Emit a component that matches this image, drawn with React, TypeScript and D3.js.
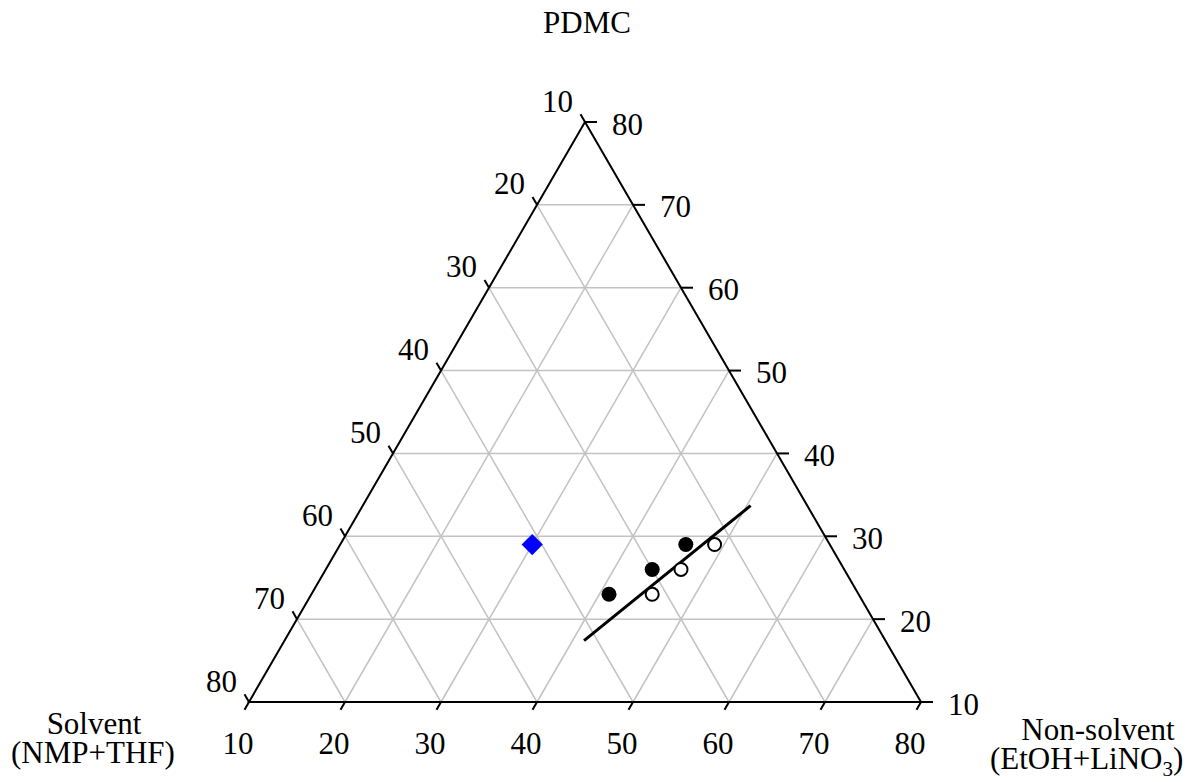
import React from "react";
import * as d3 from "d3";

// Tick values shared by all three axes (each component runs 10–80 %)
const ticks = [10, 20, 30, 40, 50, 60, 70, 80];
const gridValues = [20, 30, 40, 50, 60, 70];

// Compositions: PDMC / Non-solvent / Solvent (wt %)
const filledPdmc = [23, 26, 29];
const filledNonSolvent = [41, 44, 46];
const filledSolvent = [36, 30, 25];

const openPdmc = [23, 26, 29];
const openNonSolvent = [45.5, 47, 49];
const openSolvent = [31.5, 27, 22];

const castPdmc = [29];
const castNonSolvent = [30];
const castSolvent = [41];

// Binodal trend line end points
const linePdmc = [17.4, 33.7];
const lineNonSolvent = [41.2, 50.4];
const lineSolvent = [41.4, 15.9];

const W = 1200;
const H = 782;
const FONT = "'Liberation Serif', 'Times New Roman', serif";
const FS = 31;

// Triangle geometry
const top = { x: 585, y: 122 };
const left = { x: 249, y: 702 };
const right = { x: 921, y: 702 };

// Fraction of each component inside the 10–80 range
const frac = d3.scaleLinear().domain([10, 80]).range([0, 1]);

function project(p: number, n: number, s: number): [number, number] {
  const a = frac(p);
  const b = frac(n);
  const c = frac(s);
  const sum = a + b + c;
  return [
    (a * top.x + b * right.x + c * left.x) / sum,
    (a * top.y + b * right.y + c * left.y) / sum,
  ];
}

export default function App() {
  const line = d3.line<[number, number]>();
  const grid: string[] = [];
  gridValues.forEach((v) => {
    const rest = 100 - v - 10;
    // constant PDMC (horizontal)
    grid.push(line([project(v, 10, rest), project(v, rest, 10)])!);
    // constant Non-solvent
    grid.push(line([project(10, v, rest), project(rest, v, 10)])!);
    // constant Solvent
    grid.push(line([project(10, rest, v), project(rest, 10, v)])!);
  });

  const edge = line([
    [top.x, top.y],
    [left.x, left.y],
    [right.x, right.y],
    [top.x, top.y],
  ])!;

  const c60 = 0.5;
  const s60 = Math.sqrt(3) / 2;
  const tickLen = 9;
  const rightTickLen = 12;

  const filled = filledPdmc.map((p, i) => project(p, filledNonSolvent[i], filledSolvent[i]));
  const open = openPdmc.map((p, i) => project(p, openNonSolvent[i], openSolvent[i]));
  const cast = castPdmc.map((p, i) => project(p, castNonSolvent[i], castSolvent[i]));
  const trend = linePdmc.map((p, i) => project(p, lineNonSolvent[i], lineSolvent[i]));

  const diamond = d3.symbol(d3.symbolSquare, 15 * 15)();

  return (
    <div style={{ position: "absolute", left: 0, top: 0 }}>
      <svg width={W} height={H} style={{ display: "block", background: "#fff" }}>
        <g fill="none" stroke="#c2c2c2" strokeWidth={1.5}>
          {grid.map((d, i) => (
            <path key={i} d={d} />
          ))}
        </g>
        <path d={edge} fill="none" stroke="#000" strokeWidth={2} strokeLinejoin="miter" />

        {/* Ticks and labels */}
        <g stroke="#000" strokeWidth={2}>
          {ticks.map((t) => {
            // Solvent axis on the left edge (non-solvent = 10)
            const [lx, ly] = project(100 - t - 10, 10, t);
            // Non-solvent axis on the bottom edge (PDMC = 10)
            const [bx, by] = project(10, t, 100 - t - 10);
            // PDMC axis on the right edge (solvent = 10)
            const [rx, ry] = project(t, 100 - t - 10, 10);
            return (
              <g key={t}>
                <line x1={lx} y1={ly} x2={lx - c60 * tickLen} y2={ly - s60 * tickLen} />
                <line x1={bx} y1={by} x2={bx - c60 * tickLen} y2={by + s60 * tickLen} />
                <line x1={rx} y1={ry} x2={rx + rightTickLen} y2={ry} />
              </g>
            );
          })}
        </g>
        <g fontFamily={FONT} fontSize={FS} fill="#000">
          {ticks.map((t) => {
            const [lx, ly] = project(100 - t - 10, 10, t);
            const [bx, by] = project(10, t, 100 - t - 10);
            const [rx, ry] = project(t, 100 - t - 10, 10);
            return (
              <g key={t}>
                <text x={lx - 12} y={ly - 21} textAnchor="end" dominantBaseline="central">
                  {t}
                </text>
                <text x={bx - 11} y={by + 52} textAnchor="middle">
                  {t}
                </text>
                <text x={rx + 27} y={ry + 2} textAnchor="start" dominantBaseline="central">
                  {t}
                </text>
              </g>
            );
          })}

          <text x={587} y={33} textAnchor="middle">PDMC</text>
          <text x={94} y={734} textAnchor="middle">Solvent</text>
          <text x={93} y={763} textAnchor="middle">(NMP+THF)</text>
          <text x={1098} y={739.5} textAnchor="middle">Non-solvent</text>
          <text x={990} y={769} textAnchor="start">
            (EtOH+LiNO
            <tspan fontSize={21} dy={7}>3</tspan>
            <tspan dy={-7}>)</tspan>
          </text>
        </g>

        {/* Trend line */}
        <path d={line(trend)!} stroke="#000" strokeWidth={3} fill="none" />

        {/* Markers */}
        {filled.map(([x, y], i) => (
          <circle key={`f${i}`} cx={x} cy={y} r={7.5} fill="#000" />
        ))}
        {open.map(([x, y], i) => (
          <circle key={`o${i}`} cx={x} cy={y} r={6.5} fill="#fff" stroke="#000" strokeWidth={2} />
        ))}
        {cast.map(([x, y], i) => (
          <path key={`c${i}`} d={diamond!} transform={`translate(${x},${y}) rotate(45)`} fill="#0000ff" />
        ))}
      </svg>
    </div>
  );
}
